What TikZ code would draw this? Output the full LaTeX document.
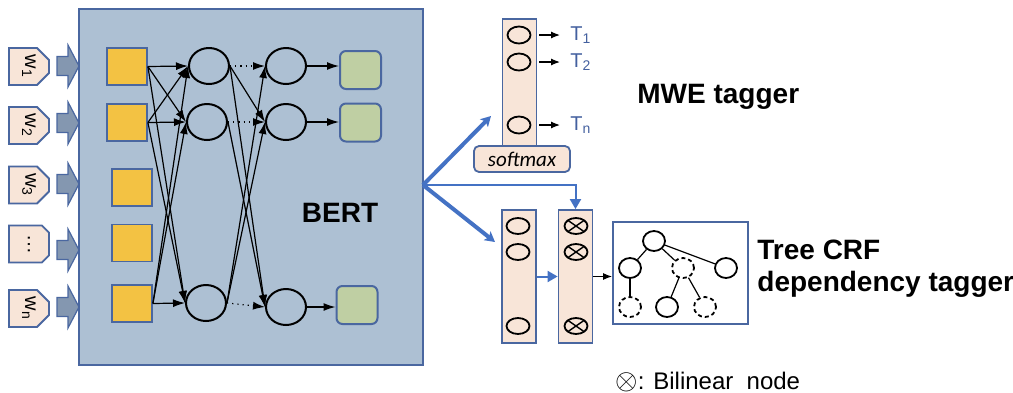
\documentclass[tikz,border=0pt]{standalone}
\usepackage{fontspec}
\usepackage{graphicx}
\setmainfont{Liberation Sans}
\newfontfamily\calibrifont{Carlito}
\usetikzlibrary{shapes.geometric,shapes.misc,arrows.meta}

\definecolor{bertblue}{HTML}{ADC0D3}
\definecolor{edgeblue}{HTML}{4A67A0}
\definecolor{linkblue}{HTML}{4472C4}
\definecolor{tblue}{HTML}{44609F}
\definecolor{tokenpeach}{HTML}{F8E5D8}
\definecolor{embyellow}{HTML}{F3C243}
\definecolor{outgreen}{HTML}{BFCFA3}
\definecolor{feedgray}{HTML}{8497B0}

\begin{document}
\begin{tikzpicture}[x=0.5pt, y=-0.5pt,
    token/.style={draw=edgeblue, line width=0.9pt, fill=tokenpeach, chamfered rectangle, chamfered rectangle corners={north east,south east}, chamfered rectangle sep=3pt, minimum width=20pt, minimum height=18.5pt, inner sep=0pt, font=\fontsize{10}{10}\selectfont},
    feedarrow/.pic={\draw[draw=edgeblue, line width=0.6pt, fill=feedgray] (0,-9.5) -- (11,-9.5) -- (11,-21) -- (22,0) -- (11,21) -- (11,9.5) -- (0,9.5) -- cycle;},
    emb/.style={draw=edgeblue, line width=0.9pt, fill=embyellow, minimum width=20pt, minimum height=18.5pt, inner sep=0pt},
    neuron/.style={ellipse, draw, line width=1pt, minimum width=20pt, minimum height=18pt, inner sep=0pt},
    outbox/.style={draw=edgeblue, line width=1pt, fill=outgreen, rounded corners=3pt, minimum width=20.5pt, minimum height=19pt, inner sep=0pt},
    colbox/.style={draw=edgeblue, line width=0.9pt, fill=tokenpeach, minimum width=17pt, inner sep=0pt},
    unit/.style={ellipse, draw, line width=0.9pt, minimum width=11.5pt, minimum height=8pt, inner sep=0pt},
    bilinear/.style={unit, path picture={\draw[line width=0.7pt] (path picture bounding box.north west) -- (path picture bounding box.south east) (path picture bounding box.south west) -- (path picture bounding box.north east);}},
    treenode/.style={ellipse, draw, line width=0.9pt, minimum width=11pt, minimum height=10pt, inner sep=0pt},
    hidden/.style={treenode, dash pattern=on 2pt off 1.5pt},
    tlabel/.style={anchor=west, inner sep=1pt, text=tblue, font=\fontsize{10}{10}\selectfont},
    title/.style={anchor=west, inner sep=0pt, align=left, font=\bfseries\fontsize{14}{16}\selectfont},
    link/.style={-{Latex[length=6pt,width=4pt]}, line width=0.6pt},
    smallarrow/.style={-{Latex[length=4.5pt,width=3.5pt]}, line width=0.6pt},
    bigarrow/.style={linkblue, line width=2pt, -{Stealth[length=5pt,width=5.5pt,inset=1.2pt]}},
    bluearrow/.style={linkblue, line width=1pt, -{Triangle[length=5pt,width=5.5pt]}}]
    \useasboundingbox (0,0) rectangle (1013,392);

    \node[draw=edgeblue, line width=1pt, fill=bertblue, minimum width=172pt, minimum height=178pt, inner sep=0pt] at (251,187) (bert) {};
    \node[font=\bfseries\fontsize{14}{16}\selectfont] at (340,213) (bertlabel) {BERT};

    \node[token] at (29,66.5) (w1) {\rotatebox{-90}{w\textsubscript{1}}};
    \node[token] at (29,125.5) (w2) {\rotatebox{-90}{w\textsubscript{2}}};
    \node[token] at (29,185) (w3) {\rotatebox{-90}{w\textsubscript{3}}};
    \node[token] at (29,244) (wdots) {\rotatebox{-90}{\dots}};
    \node[token] at (29,308.5) (wn) {\rotatebox{-90}{w\textsubscript{n}}};
    \pic at (57,66) {feedarrow};
    \pic at (57,123) {feedarrow};
    \pic at (57,184) {feedarrow};
    \pic at (57,250) {feedarrow};
    \pic at (57,307) {feedarrow};

    \node[emb] at (127,66.5) (e1) {};
    \node[emb] at (127,122.5) (e2) {};
    \node[emb] at (132,187.5) (e3) {};
    \node[emb] at (132,243) (e4) {};
    \node[emb] at (132,303.5) (en) {};

    \node[neuron] at (209,66) (h1) {};
    \node[neuron] at (207,122) (h2) {};
    \node[neuron] at (206,303) (hn) {};
    \node[neuron] at (286,66) (g1) {};
    \node[neuron] at (286,122) (g2) {};
    \node[neuron] at (286,307) (gn) {};

    \node[outbox] at (360.5,70) (o1) {};
    \node[outbox] at (360.5,122.5) (o2) {};
    \node[outbox] at (357,305) (on) {};

    \draw[link] (e1.east) -- (h1.west);
    \draw[link] (e1.east) -- (h2.west);
    \draw[link] (e1.east) -- (hn.west);
    \draw[link] (e2.east) -- (h1.west);
    \draw[link] (e2.east) -- (h2.west);
    \draw[link] (e2.east) -- (hn.west);
    \draw[link] (en.east) -- (h1.west);
    \draw[link] (en.east) -- (h2.west);
    \draw[link] (en.east) -- (hn.west);

    \draw[link, dotted] (h1.east) -- (g1.west);
    \draw[link, dotted] (h2.east) -- (g2.west);
    \draw[link, dotted] (hn.east) -- (gn.west);
    \draw[link] (h1.east) -- (g2.west);
    \draw[link] (h1.east) -- (gn.west);
    \draw[link] (h2.east) -- (gn.west);
    \draw[link] (hn.east) -- (g1.west);
    \draw[link] (hn.east) -- (g2.west);

    \draw[link] (g1.east) -- (g1.east -| o1.west);
    \draw[link] (g2.east) -- (g2.east -| o2.west);
    \draw[link] (gn.east) -- (gn.east -| on.west);

    \node[colbox, minimum height=63.5pt] at (519.5,82.5) (smcol) {};
    \node[unit, minimum height=8.5pt] at (519,35) (s1) {};
    \node[unit, minimum height=8.5pt] at (519,62) (s2) {};
    \node[unit, minimum height=8.5pt] at (519,125) (sn) {};
    \node[draw=edgeblue, line width=0.9pt, fill=tokenpeach, rounded corners=2.5pt, minimum width=48pt, minimum height=13pt, inner sep=0pt, font=\calibrifont\itshape\fontsize{10.5}{12}\selectfont] at (522,159) (softmax) {softmax};
    \node[tlabel] at (568,35) (t1) {T\textsubscript{1}};
    \node[tlabel] at (568,62) (t2) {T\textsubscript{2}};
    \node[tlabel] at (568,125) (tn) {T\textsubscript{n}};
    \draw[smallarrow, shorten <=1pt, shorten >=4pt] (s1.east -| smcol.east) -- (t1.west);
    \draw[smallarrow, shorten <=1pt, shorten >=4pt] (s2.east -| smcol.east) -- (t2.west);
    \draw[smallarrow, shorten <=1pt, shorten >=4pt] (sn.east -| smcol.east) -- (tn.west);
    \node[title] at (637,97) (mwe) {MWE tagger};

    \node[colbox, minimum height=66.5pt] at (519,276.5) (colA) {};
    \node[unit] at (518,226) (a1) {};
    \node[unit] at (518,252) (a2) {};
    \node[unit] at (518,326) (an) {};
    \node[colbox, minimum height=66.5pt] at (575.5,276.5) (colB) {};
    \node[bilinear] at (576,226) (b1) {};
    \node[bilinear] at (576,252) (b2) {};
    \node[bilinear] at (576,326) (bn) {};

    \node[draw=edgeblue, line width=0.9pt, minimum width=67.5pt, minimum height=51pt, inner sep=0pt] at (680.5,273) (tree) {};
    \node[treenode] at (654,241) (root) {};
    \node[treenode] at (630,268) (left) {};
    \node[hidden] at (683,268) (mid) {};
    \node[treenode] at (726,268) (right) {};
    \node[hidden] at (630,307) (leftleaf) {};
    \node[treenode] at (667,307) (midleaf) {};
    \node[hidden] at (705,307) (rightleaf) {};
    \draw[line width=0.6pt] (root) -- (left);
    \draw[line width=0.6pt] (root) -- (mid);
    \draw[line width=0.6pt] (root) -- (right);
    \draw[line width=0.6pt] (left) -- (leftleaf);
    \draw[line width=0.6pt] (mid) -- (midleaf);
    \draw[line width=0.6pt] (mid) -- (rightleaf);
    \node[title] at (757,269) (crf) {Tree CRF\\dependency tagger};

    \coordinate (split) at (423,185);
    \coordinate (mweIn) at (491,116);
    \coordinate (depIn) at (495,242);
    \draw[bigarrow] (split) -- (mweIn);
    \draw[bigarrow] (split) -- (depIn);
    \draw[bluearrow] (split) -| (colB.north);
    \draw[bluearrow] (colA.east) -- (colA.east -| colB.west);
    \draw[smallarrow] (colB.east) -- (colB.east -| tree.west);

    \node[anchor=west, inner sep=0pt, font=\fontsize{12}{12}\selectfont] at (615,382) (legend) {{\fontsize{15}{15}\selectfont$\otimes$}: Bilinear\ \ node};
\end{tikzpicture}
\end{document}
